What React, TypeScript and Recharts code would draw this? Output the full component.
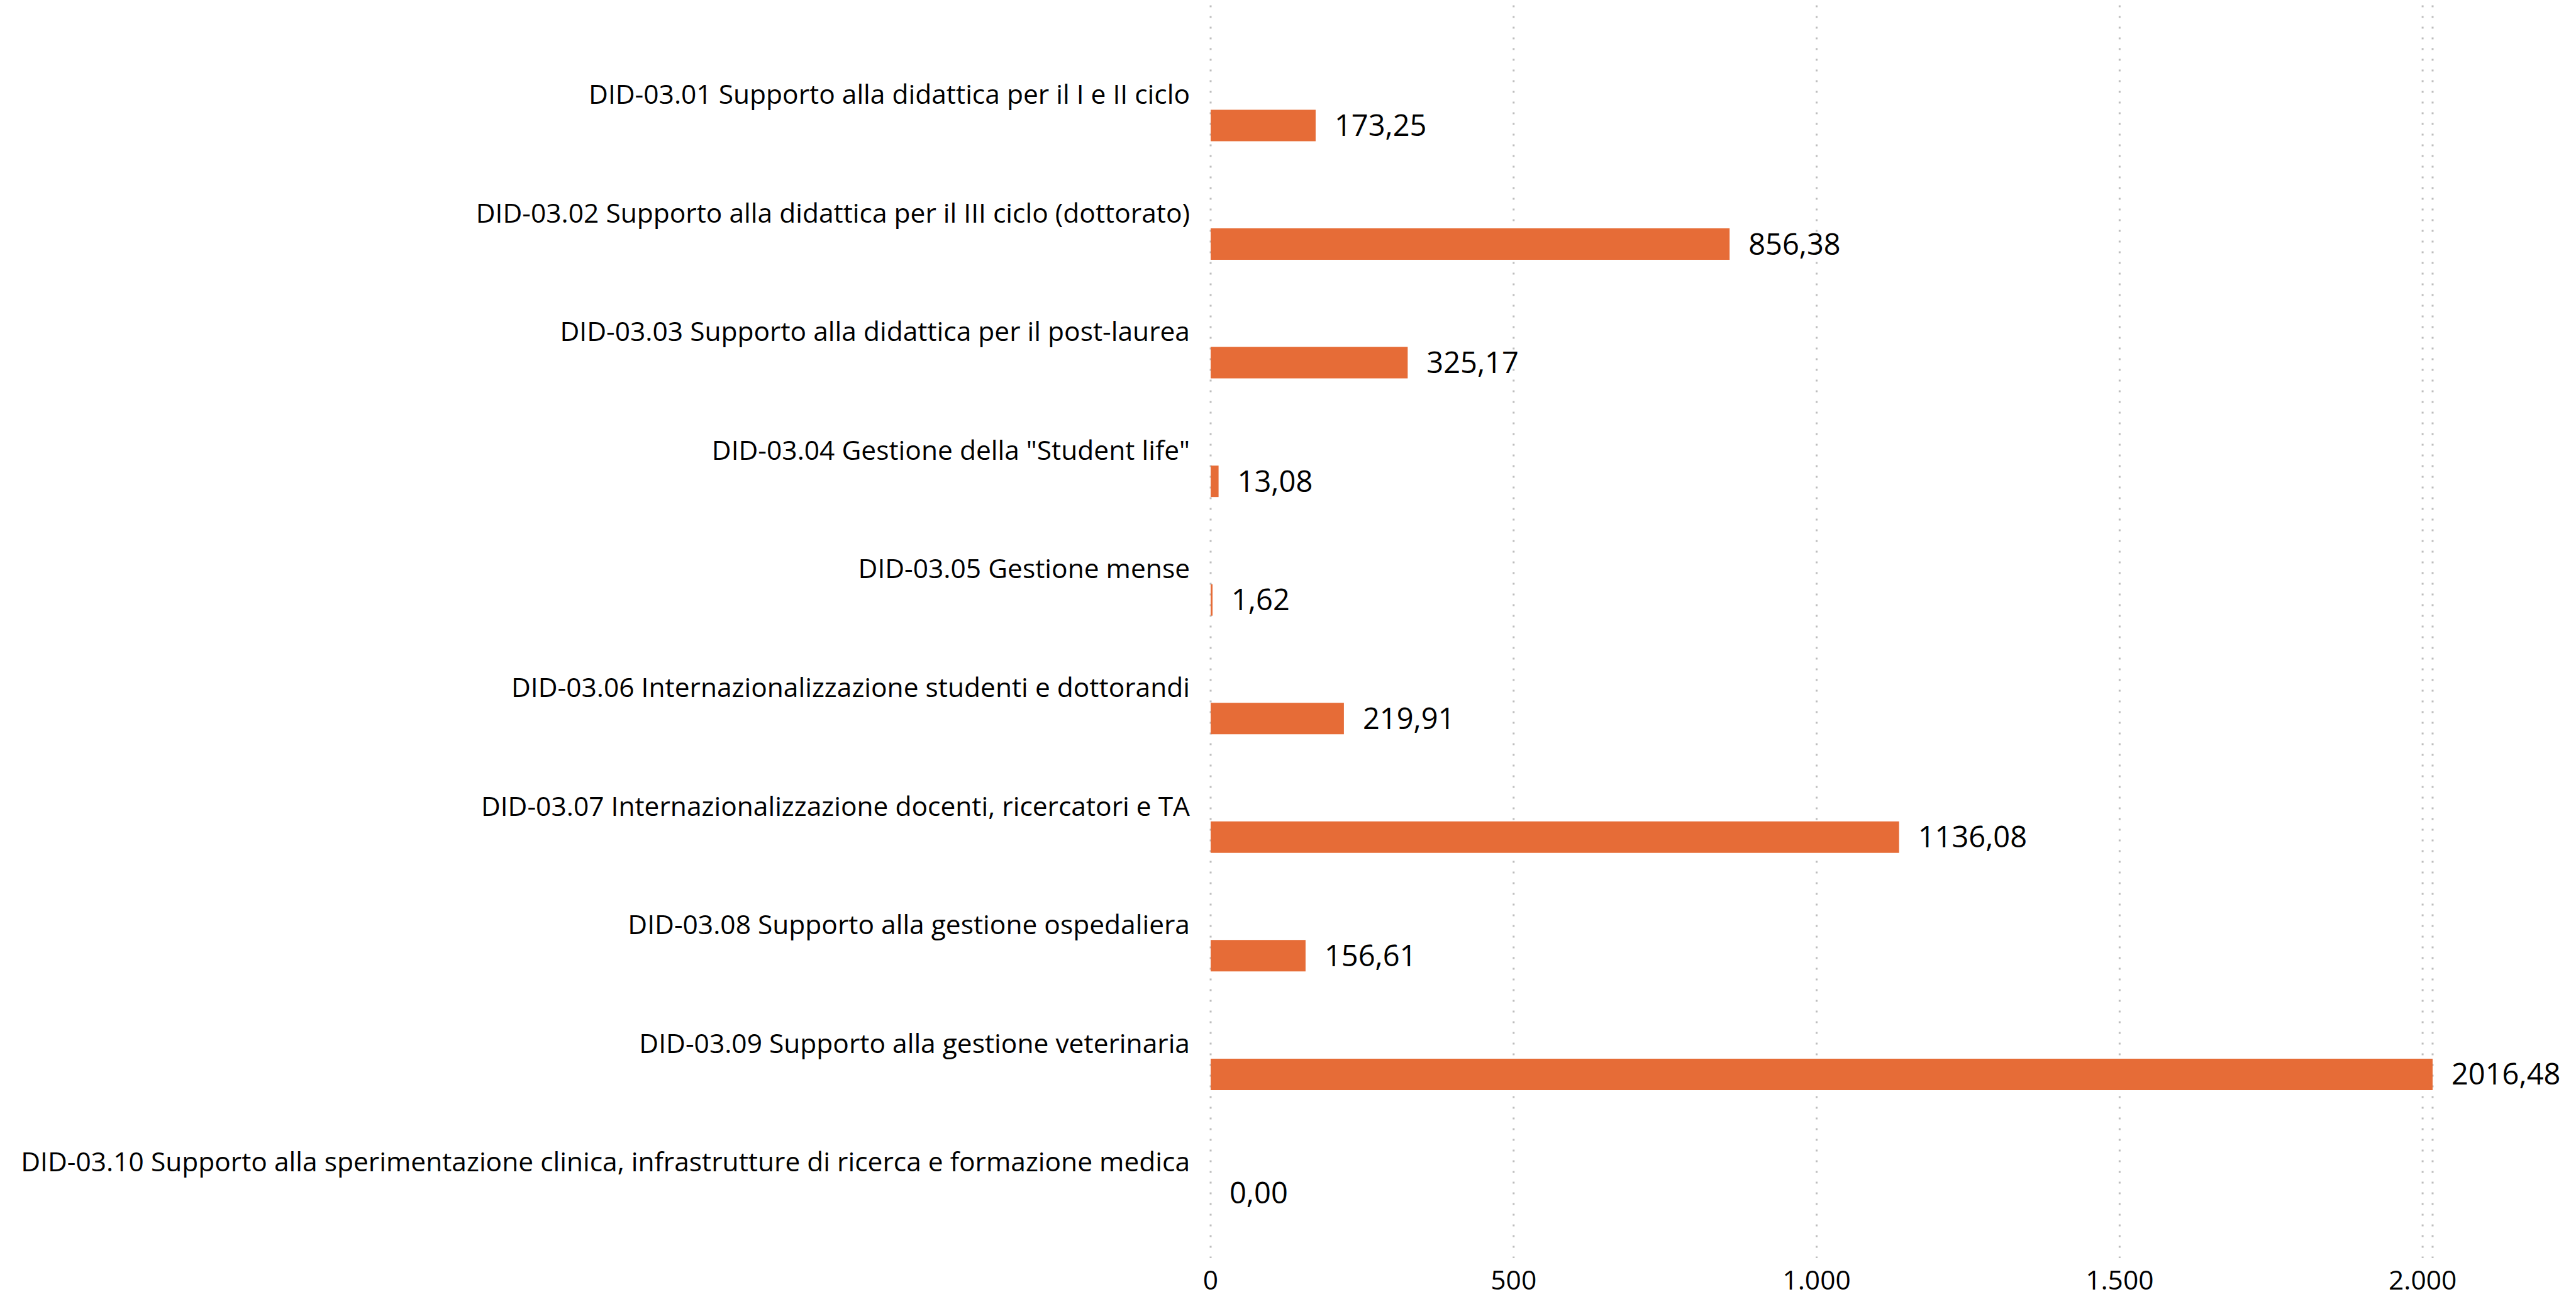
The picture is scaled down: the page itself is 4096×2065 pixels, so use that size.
import React from 'react';
import { BarChart, Bar, XAxis, YAxis, CartesianGrid, LabelList } from 'recharts';

const CATEGORIES: string[] = [
  'DID-03.01 Supporto alla didattica per il I e II ciclo',
  'DID-03.02 Supporto alla didattica per il III ciclo (dottorato)',
  'DID-03.03 Supporto alla didattica per il post-laurea',
  'DID-03.04 Gestione della "Student life"',
  'DID-03.05 Gestione mense',
  'DID-03.06 Internazionalizzazione studenti e dottorandi',
  'DID-03.07 Internazionalizzazione docenti, ricercatori e TA',
  'DID-03.08 Supporto alla gestione ospedaliera',
  'DID-03.09 Supporto alla gestione veterinaria',
  'DID-03.10 Supporto alla sperimentazione clinica, infrastrutture di ricerca e formazione medica',
];

const VALUES: number[] = [173.25, 856.38, 325.17, 13.08, 1.62, 219.91, 1136.08, 156.61, 2016.48, 0];

const X_TICKS: number[] = [0, 500, 1000, 1500, 2000];

const data = CATEGORIES.map((name, i) => ({ name, value: VALUES[i] }));

const FONT = '"Segoe UI", "Open Sans", sans-serif';
const BAR_COLOR = '#E66C37';

const fmtValue = (v: number) => v.toFixed(2).replace('.', ',');
const fmtTick = (v: number) => v.toString().replace(/\B(?=(\d{3})+(?!\d))/g, '.');

const CategoryTick = ({ x, y, payload }: any) => (
  <text x={x} y={y - 34.5} textAnchor="end" fontFamily={FONT} fontSize={42.5} fill="#000">
    {payload.value}
  </text>
);

const ValueTick = ({ x, y, payload }: any) => (
  <text x={x} y={y + 50} textAnchor="middle" fontFamily={FONT} fontSize={42.5} fill="#000">
    {fmtTick(payload.value)}
  </text>
);

const ValueLabel = ({ x, y, width, height, value }: any) => (
  <text x={x + width + 30} y={y + height / 2 + 16.5} textAnchor="start" fontFamily={FONT} fontSize={47} fill="#000">
    {fmtValue(value)}
  </text>
);

// tiny values still get a visible sliver, zero gets an invisible one so its label shows
const minSize = (value: number) => (value > 0 ? 3 : 0.01);

const App: React.FC = () => {
  return (
    <div style={{ position: 'absolute', left: 0, top: 0, width: 4096, height: 2065, background: '#fff' }}>
      <BarChart
        width={4096}
        height={2065}
        data={data}
        layout="vertical"
        margin={{ top: 8.5, right: 228, bottom: 0, left: 0 }}
      >
        <CartesianGrid
          horizontal={false}
          vertical
          stroke="#bdbdbd"
          strokeWidth={3}
          strokeDasharray="3 14"
        />
        <XAxis
          type="number"
          dataKey="value"
          domain={[0, Math.max(...VALUES)]}
          ticks={X_TICKS}
          axisLine={false}
          tickLine={false}
          tickSize={0}
          tickMargin={0}
          height={65}
          tick={<ValueTick />}
          interval={0}
        />
        <YAxis
          type="category"
          dataKey="name"
          width={1925}
          axisLine={false}
          tickLine={false}
          tickSize={0}
          tickMargin={33}
          padding={{ top: 97, bottom: 9 }}
          tick={<CategoryTick />}
          interval={0}
        />
        <Bar dataKey="value" fill={BAR_COLOR} barSize={50} minPointSize={minSize} isAnimationActive={false}>
          <LabelList dataKey="value" content={<ValueLabel />} />
        </Bar>
      </BarChart>
    </div>
  );
};

export default App;
